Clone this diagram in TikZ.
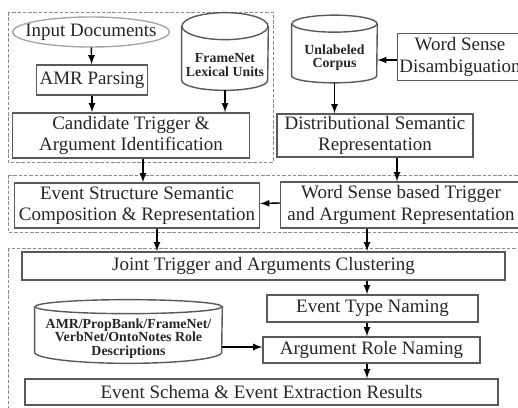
\documentclass[tikz,border=0pt]{standalone}
\usepackage{fontspec}
\setmainfont{Liberation Serif}
\usetikzlibrary{calc}

% drum outline round a store node: name, half width, cap radius, arc depth
\newcommand{\drawdrum}[4]{%
  \draw[drumline] ($(#1.north)-(0,#3)$) ellipse [x radius=#2, y radius=#3];
  \draw[drumline] ($(#1.north west)-(0,#3)$) -- ($(#1.south west)-(0,#4)$)
    arc [start angle=180, end angle=0, x radius=#2, y radius=#4] -- ($(#1.north east)-(0,#3)$);
}

\begin{document}
\begin{tikzpicture}[x=0.02cm, y=-0.02cm,
    box/.style={rectangle, draw=black!65, thick, text=black!85, align=center, inner sep=1pt, font=\fontsize{10.8}{12}\selectfont},
    doc/.style={rectangle, text=black!85, inner sep=1pt, font=\fontsize{10.8}{12}\selectfont},
    store/.style={rectangle, text=black!85, align=center, inner sep=1pt, font=\fontsize{7.9}{7.6}\selectfont\bfseries},
    drumline/.style={draw=black!65, thick},
    group/.style={draw=black!45, dash pattern=on 2pt off 1pt},
    arrow/.style={->, >=latex, thick}
]
\useasboundingbox (0,0) rectangle (518,408);

% Dashed groups
\draw[group] (8,12) rectangle (273,162);
\draw[group] (8,175) rectangle (530,232);
\draw[group] (8,248) rectangle (530,420);

% Candidate extraction
\node[doc, minimum width=3.14cm, minimum height=0.6cm] (inp) at (91,32) {Input Documents};
\draw[draw=black!35, thick] (inp.center) ellipse [x radius=78.5, y radius=15];
\node[box, minimum width=2.22cm, minimum height=0.6cm] (amr) at (92,80) {AMR Parsing};
\node[store, minimum width=1.72cm, minimum height=1.0cm] (fn) at (225,65) {FrameNet\\Lexical Units};
\drawdrum{fn}{43}{13.5}{10}
\node[box, minimum width=4.74cm, minimum height=0.9cm] (cand) at (131,135.5) {Candidate Trigger \&\\Argument Identification};

% Distributional side
\node[store, minimum width=1.7cm, minimum height=1.0cm] (corp) at (334.5,57.5) {Unlabeled\\Corpus};
\drawdrum{corp}{42.5}{8.5}{7}
\node[box, minimum width=2.42cm, minimum height=0.94cm] (wsd) at (460,57) {Word Sense\\Disambiguation};
\node[box, minimum width=3.92cm, minimum height=0.86cm] (dist) at (375,135.5) {Distributional Semantic\\Representation};

% Representation
\node[box, minimum width=4.9cm, minimum height=0.9cm] (esc) at (137,205.5) {Event Structure Semantic\\Composition \& Representation};
\node[box, minimum width=4.82cm, minimum height=0.92cm] (wsb) at (401,205) {Word Sense based Trigger\\and Argument Representation};

% Clustering and naming
\node[box, minimum width=9.66cm, minimum height=0.56cm] (joint) at (263.5,266) {Joint Trigger and Arguments Clustering};
\node[box, minimum width=4.22cm, minimum height=0.54cm] (etn) at (372.5,308.5) {Event Type Naming};
\node[store, minimum width=3.74cm, minimum height=0.98cm] (roles) at (128.5,338.5) {AMR/PropBank/FrameNet/\\VerbNet/OntoNotes Role\\Descriptions};
\drawdrum{roles}{93.5}{7}{11}
\node[box, minimum width=4.34cm, minimum height=0.52cm] (arn) at (371.5,350) {Argument Role Naming};
\node[box, minimum width=9.46cm, minimum height=0.52cm] (res) at (261.5,392) {Event Schema \& Event Extraction Results};

% Connections
\draw[arrow] (inp) -- (amr);
\draw[arrow] (amr.south) -- (amr.south |- cand.north);
\draw[arrow] (fn.south) -- (fn.south |- cand.north);
\draw[arrow] ([yshift=-0.6mm]wsd.west) -- ([yshift=-0.6mm]wsd.west -| corp.east);
\draw[arrow] (corp.south) -- (corp.south |- dist.north);
\draw[arrow] ([xshift=2.4mm]cand.south) -- ([xshift=2.4mm]cand.south |- esc.north);
\draw[arrow] ([xshift=4.4mm]dist.south) -- ([xshift=4.4mm]dist.south |- wsb.north);
\draw[arrow] ([yshift=0.4mm]wsb.west) -- ([yshift=0.4mm]esc.east);
\draw[arrow] ([xshift=4mm]esc.south) -- ([xshift=4mm]esc.south |- joint.north);
\draw[arrow] ([xshift=-6.8mm]wsb.south) -- ([xshift=-6.8mm]wsb.south |- joint.north);
\draw[arrow] ([xshift=-1.1mm]etn.north |- joint.south) -- ([xshift=-1.1mm]etn.north);
\draw[arrow] ([xshift=-1.1mm]etn.south) -- ([xshift=-1.1mm]etn.south |- arn.north);
\draw[arrow] ([xshift=-0.9mm]arn.south) -- ([xshift=-0.9mm]arn.south |- res.north);
\draw[arrow] ([yshift=0.6mm]arn.west -| roles.east) -- ([yshift=0.6mm]arn.west);

\end{tikzpicture}
\end{document}
